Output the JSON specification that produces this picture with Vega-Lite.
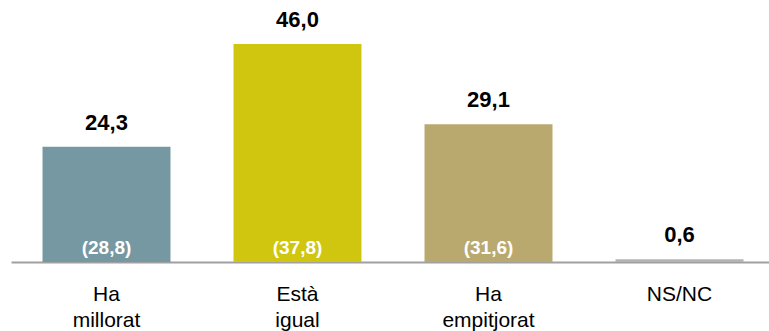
{
  "$schema": "https://vega.github.io/schema/vega-lite/v6.json",
  "width": 764,
  "height": 262,
  "autosize": "none",
  "padding": {"left": 11, "top": 0, "right": 0, "bottom": 69},
  "background": "white",
  "config": {"view": {"stroke": null}, "font": "Liberation Sans"},
  "data": {"values": [
    {"cat": "Ha\nmillorat", "v": 24.3, "label": "24,3", "prev": "(28,8)", "color": "#7698A2"},
    {"cat": "Està\nigual", "v": 46.0, "label": "46,0", "prev": "(37,8)", "color": "#D1C60F"},
    {"cat": "Ha\nempitjorat", "v": 29.1, "label": "29,1", "prev": "(31,6)", "color": "#B9A96E"},
    {"cat": "NS/NC", "v": 0.6, "label": "0,6", "prev": "", "color": "#B3B3B3"}
  ]},
  "encoding": {
    "x": {
      "field": "cat", "type": "nominal", "sort": null,
      "scale": {"paddingInner": 0.33, "paddingOuter": 0.165},
      "axis": {
        "title": null, "labelAngle": 0, "ticks": false,
        "domainColor": "#A0A0A0", "domainWidth": 2,
        "labelFontSize": 21, "labelColor": "#000000",
        "labelPadding": 21, "labelLineHeight": 26, "labelBaseline": "top",
        "labelExpr": "split(datum.label, '\\n')"
      }
    },
    "y": {
      "field": "v", "type": "quantitative",
      "scale": {"domain": [0, 55.3], "nice": false, "zero": true},
      "axis": null
    }
  },
  "layer": [
    {"mark": {"type": "bar"}, "encoding": {"color": {"field": "color", "type": "nominal", "scale": null}}},
    {"mark": {"type": "text", "fontSize": 22, "fontWeight": "bold", "baseline": "middle", "dy": -24, "color": "#000000"},
     "encoding": {"text": {"field": "label"}}},
    {"mark": {"type": "text", "fontSize": 19, "fontWeight": "bold", "baseline": "middle", "color": "#FFFFFF"},
     "encoding": {"text": {"field": "prev"}, "y": {"datum": 3, "type": "quantitative"}}}
  ]
}
